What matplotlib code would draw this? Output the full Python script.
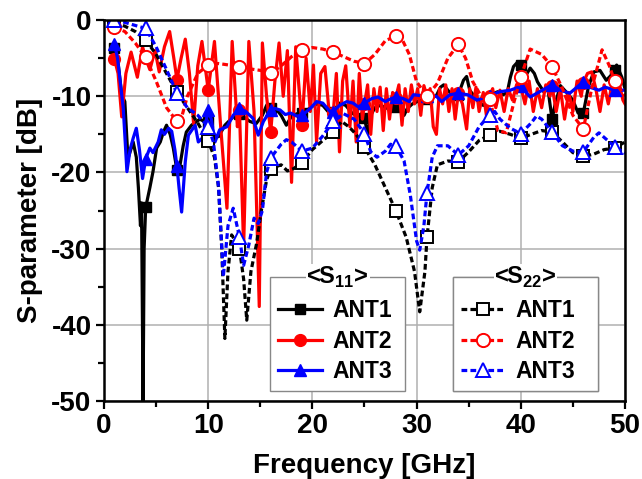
import numpy as np
import matplotlib.pyplot as plt
from matplotlib.ticker import MultipleLocator

plt.rcParams['font.family'] = 'Liberation Sans'
plt.rcParams['font.weight'] = 'bold'
plt.rcParams['axes.unicode_minus'] = False
plt.rcParams['mathtext.fontset'] = 'custom'
plt.rcParams['mathtext.rm'] = 'Liberation Sans:bold'
plt.rcParams['mathtext.bf'] = 'Liberation Sans:bold'

# measured reflection, S11 (solid)
f_s11_ant1 = [1.0, 1.3, 1.7, 2.0, 2.3, 2.8, 3.1, 3.3, 3.5, 3.6, 3.75, 3.85, 4.0, 4.4, 4.7,
              5.05, 5.4, 5.7, 6.0, 6.35, 6.65, 7.0, 7.3, 7.6, 7.9, 8.4, 8.9, 9.2, 9.6, 10.0,
              10.5, 11.0, 11.6, 12.4, 13.0, 13.5, 14.0, 14.6, 15.2, 15.6, 16.0, 16.6, 17.0,
              17.5, 18.0, 18.5, 19.0, 19.5, 20.0, 20.5, 21.0, 21.5, 22.0, 22.6, 23.2, 23.8,
              24.3, 24.7, 25.0, 25.3, 25.6, 26.0, 26.5, 27.1, 27.6, 28.0, 28.5, 28.8, 29.1,
              29.6, 30.2, 31.0, 31.5, 31.9, 32.3, 32.6, 33.0, 33.5, 34.0, 34.5, 34.8, 35.1,
              35.8, 36.4, 37.0, 37.4, 37.8, 38.3, 38.7, 39.0, 39.3, 39.7, 40.0, 40.3, 40.6,
              40.9, 41.3, 41.6, 42.2, 42.6, 43.0, 43.3, 43.8, 44.4, 45.0, 45.5, 46.0, 46.5,
              47.0, 47.6, 48.2, 48.7, 49.0, 49.2, 49.7, 50.0]
s11_ant1 = [-3.7, -5.0, -9.8, -10.7, -18.2, -16.0, -18.0, -22.0, -27.0, -24.0, -50.0, -30.0,
            -24.6, -22.0, -19.9, -16.8, -16.0, -14.7, -13.8, -15.0, -16.8, -19.7, -19.0, -16.5,
            -14.7, -13.8, -13.3, -13.0, -13.3, -13.4, -15.1, -15.3, -13.8, -12.7, -12.3, -12.8,
            -13.3, -13.6, -12.5, -11.2, -11.6, -11.8, -12.5, -13.8, -12.6, -12.3, -12.2, -11.8,
            -11.3, -11.0, -11.2, -12.0, -12.0, -10.9, -11.2, -12.2, -12.6, -12.3, -12.8, -15.0,
            -12.5, -11.5, -11.2, -11.5, -12.0, -11.4, -11.5, -12.5, -11.6, -11.0, -10.6, -10.3,
            -10.2, -9.9, -8.8, -8.5, -9.2, -10.0, -9.8, -7.9, -7.4, -9.2, -10.5, -11.2, -10.5,
            -9.6, -9.4, -9.8, -9.5, -7.5, -6.1, -5.5, -5.9, -8.0, -7.0, -6.3, -7.0, -8.1, -9.4,
            -9.0, -13.0, -11.0, -8.6, -9.5, -10.5, -12.2, -12.2, -8.7, -6.8, -6.6, -7.9, -7.2,
            -6.5, -5.9, -7.5, -9.0]

f_s11_ant2 = [1.0, 1.35, 1.7, 2.1, 2.6, 3.2, 3.7, 4.0, 4.4, 4.9, 5.3, 5.8, 6.3, 6.7, 7.0,
              7.4, 7.8, 8.2, 8.6, 9.0, 9.4, 10.0, 10.6, 11.2, 11.8, 12.3, 12.8, 13.0, 13.4,
              13.9, 14.4, 14.9, 15.2, 15.6, 16.0, 16.4, 16.8, 17.2, 17.6, 18.0, 18.4, 19.0,
              19.4, 19.8, 20.1, 20.4, 20.8, 21.2, 21.6, 22.0, 22.3, 22.6, 22.9, 23.2, 23.6,
              23.9, 24.2, 24.5, 24.8, 25.0, 25.3, 25.6, 25.9, 26.2, 26.5, 26.8, 27.1, 27.4,
              27.7, 28.0, 28.3, 28.6, 28.9, 29.2, 29.5, 29.8, 30.1, 30.4, 30.7, 31.0, 31.3,
              31.6, 31.9, 32.2, 32.5, 32.8, 33.1, 33.4, 33.7, 34.0, 34.4, 34.8, 35.1, 35.4,
              35.7, 36.0, 36.4, 36.7, 37.0, 37.3, 37.6, 38.0, 38.4, 38.8, 39.2, 39.6, 40.0,
              40.4, 40.8, 41.2, 41.6, 42.0, 42.4, 42.8, 43.0, 43.4, 43.8, 44.2, 44.6, 45.0,
              45.4, 45.8, 46.0, 46.4, 46.8, 47.2, 47.6, 48.0, 48.4, 48.8, 49.0, 49.4, 49.8,
              50.0]
s11_ant2 = [-5.1, -7.0, -12.7, -7.0, -4.2, -7.5, -3.5, -5.0, -6.5, -4.0, -6.8, -3.5, -1.5,
            -5.0, -7.8, -5.0, -2.5, -7.0, -13.6, -6.0, -2.8, -9.2, -2.8, -14.0, -24.7, -2.8,
            -14.0, -11.8, -29.8, -2.8, -12.0, -37.6, -3.0, -10.0, -14.7, -8.0, -3.0, -10.0,
            -4.0, -21.3, -3.5, -13.8, -5.0, -12.0, -5.9, -16.0, -7.0, -6.1, -12.0, -12.2,
            -7.0, -17.3, -8.0, -6.0, -14.0, -8.0, -16.0, -7.0, -13.0, -11.0, -8.5, -15.0,
            -9.0, -12.0, -8.8, -14.5, -9.0, -13.0, -9.5, -10.2, -8.5, -13.8, -9.0, -12.0,
            -8.5, -11.0, -9.0, -12.5, -8.6, -10.0, -9.0, -14.0, -15.0, -9.0, -11.0, -8.5,
            -12.0, -9.0, -13.0, -9.6, -11.0, -14.3, -9.0, -11.5, -8.8, -12.0, -9.5, -12.5,
            -10.0, -9.0, -11.5, -9.2, -12.0, -9.0, -10.5, -8.5, -8.7, -11.0, -8.0, -12.0,
            -9.0, -11.5, -8.5, -10.0, -8.6, -12.0, -9.0, -13.0, -9.5, -12.0, -8.0, -10.0,
            -8.2, -7.0, -6.8, -9.0, -12.0, -8.5, -11.0, -8.0, -9.2, -8.0, -10.5, -11.0]

f_s11_ant3 = [1.0, 1.3, 1.85, 2.2, 2.5, 2.8, 3.1, 3.4, 3.7, 4.0, 4.4, 4.7, 5.2, 5.5, 5.8,
              6.2, 6.5, 6.8, 7.0, 7.2, 7.45, 7.8, 8.1, 8.4, 8.75, 9.05, 9.5, 10.0, 10.3,
              10.65, 11.1, 11.8, 12.4, 13.0, 13.6, 14.3, 14.8, 15.3, 16.0, 16.4, 16.9, 17.4,
              17.9, 18.5, 19.0, 19.8, 20.4, 21.0, 21.7, 22.0, 22.6, 23.3, 23.9, 24.4, 25.0,
              25.7, 26.3, 27.0, 27.4, 28.0, 28.7, 29.3, 29.7, 30.3, 31.0, 31.9, 32.4, 33.2,
              34.0, 34.9, 35.8, 36.4, 37.0, 38.0, 39.0, 40.0, 40.9, 41.8, 43.0, 43.8, 44.7,
              46.0, 46.6, 47.5, 48.1, 49.0, 50.0]
s11_ant3 = [-3.1, -5.0, -11.6, -19.9, -17.0, -15.5, -14.2, -17.0, -20.8, -18.2, -16.8, -17.4,
            -16.0, -14.4, -15.0, -14.2, -14.6, -17.0, -19.2, -22.0, -25.2, -18.6, -15.1, -14.5,
            -13.8, -16.0, -15.4, -11.8, -13.0, -16.0, -14.4, -14.0, -12.5, -11.6, -12.0, -12.9,
            -15.1, -13.3, -11.8, -11.6, -11.8, -12.4, -12.2, -12.6, -12.5, -11.6, -10.7, -10.9,
            -12.0, -12.0, -11.2, -10.7, -10.9, -11.4, -10.9, -10.3, -10.1, -10.7, -10.4, -10.1,
            -10.3, -10.7, -9.8, -9.9, -10.0, -10.0, -10.7, -9.8, -9.6, -9.8, -10.5, -10.2,
            -9.9, -9.4, -9.2, -8.7, -10.1, -9.4, -8.5, -9.2, -9.6, -8.1, -8.8, -9.2, -8.8,
            -9.2, -9.2]

# measured reflection, S22 (dashed)
f_s22_ant1 = [1.0, 2.0, 3.0, 4.0, 5.0, 6.0, 7.0, 8.0, 9.0, 10.0, 10.6, 11.0, 11.3, 11.6,
              11.9, 12.25, 12.6, 13.0, 13.4, 13.7, 14.1, 14.65, 15.1, 15.6, 16.0, 17.0, 17.6,
              18.2, 19.0, 20.0, 21.0, 22.0, 22.8, 23.5, 24.2, 25.0, 26.0, 27.0, 28.0, 29.0,
              29.8, 30.3, 30.8, 31.0, 31.5, 32.0, 33.0, 34.0, 35.0, 36.0, 37.0, 38.0, 39.0,
              40.0, 41.0, 42.0, 43.0, 44.0, 45.0, 46.0, 47.0, 48.0, 49.0, 50.0]
s22_ant1 = [-0.3, -0.8, -1.5, -2.6, -4.5, -7.0, -9.5, -11.5, -13.5, -15.9, -18.0, -22.0,
            -30.0, -41.8, -33.0, -28.2, -29.0, -30.0, -34.0, -39.4, -33.0, -29.3, -25.0, -21.0,
            -19.5, -19.0, -19.8, -19.5, -18.7, -17.0, -15.8, -14.7, -13.3, -14.0, -15.0, -16.7,
            -19.0, -22.0, -25.0, -28.5, -33.0, -38.3, -33.0, -28.5, -22.0, -19.0, -18.5, -18.6,
            -17.3, -15.8, -15.1, -14.6, -15.0, -15.5, -15.0, -14.5, -14.7, -16.0, -17.4, -17.9,
            -17.6, -17.0, -16.8, -16.0]

f_s22_ant2 = [1.0, 2.0, 3.0, 4.0, 5.0, 6.0, 7.0, 7.5, 8.0, 9.0, 10.0, 11.0, 12.0, 13.0,
              14.0, 15.0, 16.0, 17.0, 18.0, 19.0, 20.0, 21.0, 22.0, 23.0, 24.0, 25.0, 26.0,
              27.0, 28.0, 28.6, 29.3, 30.0, 31.0, 32.0, 33.0, 34.0, 34.7, 35.4, 36.2, 37.0,
              37.8, 38.6, 39.3, 40.0, 40.9, 42.0, 43.0, 44.0, 45.0, 46.0, 46.8, 47.8, 48.5,
              49.0, 50.0]
s22_ant2 = [-0.9, -1.5, -3.0, -4.9, -8.0, -11.5, -13.3, -12.5, -10.0, -7.0, -5.9, -5.7, -5.9,
            -6.2, -6.4, -6.6, -7.0, -6.0, -4.8, -3.9, -3.6, -3.8, -4.2, -4.8, -5.4, -5.7, -4.5,
            -2.7, -2.1, -2.5, -4.5, -8.1, -10.0, -8.3, -5.0, -3.2, -5.0, -8.1, -10.0, -10.4,
            -14.5, -14.8, -11.0, -7.5, -3.8, -4.5, -6.1, -9.0, -12.5, -14.3, -9.0, -3.9, -6.0,
            -8.0, -10.0]

f_s22_ant3 = [1.0, 2.0, 3.0, 4.0, 5.0, 6.0, 7.0, 8.0, 9.0, 10.0, 10.5, 11.0, 11.45, 11.9,
              12.4, 13.0, 13.4, 13.9, 14.4, 14.8, 15.2, 15.6, 16.0, 17.0, 17.5, 18.0, 19.0,
              20.0, 21.0, 22.0, 23.0, 24.0, 25.0, 25.6, 26.2, 27.0, 27.5, 28.0, 28.8, 29.4,
              30.0, 30.3, 30.7, 31.0, 31.5, 32.0, 33.0, 34.0, 35.0, 36.0, 37.0, 37.5, 38.0,
              39.0, 40.0, 41.0, 41.5, 42.0, 43.0, 44.0, 45.0, 46.0, 47.0, 47.5, 48.0, 49.0,
              50.0]
s22_ant3 = [0.0, -0.3, -0.7, -1.1, -3.5, -6.5, -9.6, -11.5, -12.5, -14.0, -16.0, -22.0, -33.7,
            -27.0, -24.7, -28.5, -32.2, -29.5, -26.0, -26.7, -25.0, -20.0, -18.1, -16.3, -15.7,
            -16.0, -17.2, -16.8, -15.2, -13.3, -12.3, -13.0, -14.9, -17.3, -18.0, -17.2, -16.3,
            -16.5, -18.5, -23.0, -29.0, -30.2, -27.0, -22.7, -18.0, -16.5, -16.5, -17.7, -16.5,
            -14.0, -12.5, -12.0, -13.0, -14.2, -14.9, -13.5, -12.6, -13.0, -14.7, -16.5, -17.2,
            -17.3, -15.4, -14.8, -15.4, -16.6, -17.5]

marker_freq = np.arange(1, 50, 3)
labels = ['ANT1', 'ANT2', 'ANT3']
colors = ['black', 'red', 'blue']
shapes = ['s', 'o', '^']
sizes = [7, 8.5, 9]


def marks(f):
    f = np.asarray(f)
    return [int(np.argmin(np.abs(f - m))) for m in marker_freq]


fig = plt.figure(figsize=(6.42, 4.79), dpi=100)
ax = fig.add_axes([0.162, 0.163, 0.8115, 0.795])

s11 = [(f_s11_ant1, s11_ant1), (f_s11_ant2, s11_ant2), (f_s11_ant3, s11_ant3)]
s22 = [(f_s22_ant1, s22_ant1), (f_s22_ant2, s22_ant2), (f_s22_ant3, s22_ant3)]

h11 = []
for (f, y), c, m, ms in zip(s11, colors, shapes, sizes):
    l, = ax.plot(f, y, '-', color=c, lw=2.3, marker=m, ms=ms, mfc=c, mec=c,
                 markevery=marks(f))
    h11.append(l)

h22 = []
for (f, y), c, m, ms in zip(s22, colors, shapes, sizes):
    l, = ax.plot(f, y, color=c, lw=2.3, ls=(0, (1.8, 1.0)), marker=m, ms=ms + 1,
                 mfc='white', mec=c, mew=1.4, markevery=marks(f))
    h22.append(l)

ax.set_xlim(0, 50)
ax.set_ylim(-50, 0)
ax.xaxis.set_major_locator(MultipleLocator(10))
ax.xaxis.set_minor_locator(MultipleLocator(5))
ax.yaxis.set_major_locator(MultipleLocator(10))
ax.yaxis.set_minor_locator(MultipleLocator(5))
ax.tick_params(which='both', direction='out', width=1.6, labelsize=20)
ax.tick_params(which='major', length=6, pad=3)
ax.tick_params(which='minor', length=4)
ax.grid(which='major', color='#b0b0b0', lw=1.1)
ax.set_axisbelow(True)
for sp in ax.spines.values():
    sp.set_linewidth(1.8)

ax.set_xlabel('Frequency [GHz]', fontsize=20, fontweight='bold', labelpad=10)
ax.set_ylabel('S-parameter [dB]', fontsize=20, fontweight='bold', labelpad=6)

legs = []
for handles, x0, w in [(h11, 0.319, 0.259), (h22, 0.670, 0.278)]:
    leg = ax.legend(handles, labels, loc='lower left', bbox_to_anchor=(x0, 0.026, w, 0.29),
                    mode='expand', borderaxespad=0, fancybox=False, edgecolor='#888888',
                    framealpha=1, fontsize=16.5, handlelength=1.9, handletextpad=0.45,
                    labelspacing=0.32, numpoints=1, title=' ', title_fontsize=6,
                    borderpad=0.35)
    leg.get_frame().set_linewidth(1.0)
    ax.add_artist(leg)
    legs.append(leg)

fig.canvas.draw()
for leg, title in zip(legs, [r'<S$_{11}$>', r'<S$_{22}$>']):
    bb = leg.get_window_extent()
    fig.text((bb.x0 + bb.x1) / 2 / fig.bbox.width, bb.y1 / fig.bbox.height, title,
             ha='center', va='center', fontsize=17, fontweight='bold',
             bbox=dict(fc='white', ec='none', pad=0.5))

fig.savefig('out.png', dpi=100)
